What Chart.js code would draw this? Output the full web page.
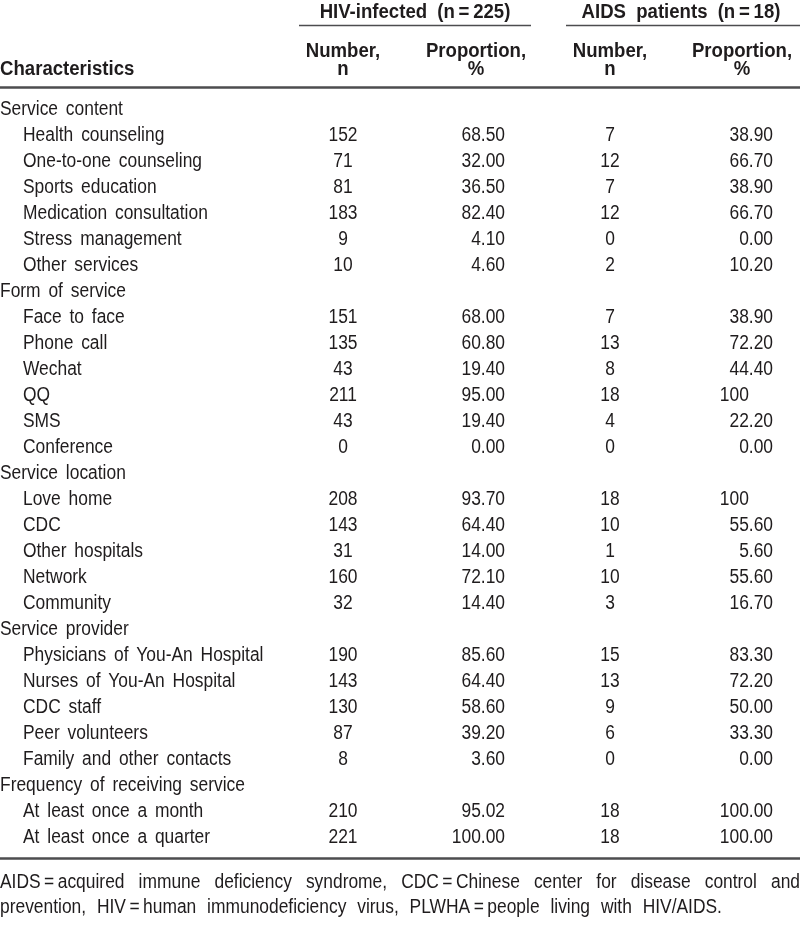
<!DOCTYPE html>
<html><head><meta charset="utf-8">
<script src="https://cdn.jsdelivr.net/npm/chart.js@4/dist/chart.umd.min.js"></script>
<style>html,body{margin:0;padding:0;background:#fff}#wrap{width:800px;height:927px}</style>
</head><body><div id="wrap"><canvas id="c" width="800" height="927"></canvas></div>
<script>
const rowLabels = ["Service content","Health counseling","One-to-one counseling","Sports education","Medication consultation","Stress management","Other services",
"Form of service","Face to face","Phone call","Wechat","QQ","SMS","Conference",
"Service location","Love home","CDC","Other hospitals","Network","Community",
"Service provider","Physicians of You-An Hospital","Nurses of You-An Hospital","CDC staff","Peer volunteers","Family and other contacts",
"Frequency of receiving service","At least once a month","At least once a quarter"];
const hivNumber = [null,152,71,81,183,9,10, null,151,135,43,211,43,0, null,208,143,31,160,32, null,190,143,130,87,8, null,210,221];
const hivProportion = [null,"68.50","32.00","36.50","82.40","4.10","4.60", null,"68.00","60.80","19.40","95.00","19.40","0.00", null,"93.70","64.40","14.00","72.10","14.40", null,"85.60","64.40","58.60","39.20","3.60", null,"95.02","100.00"];
const aidsNumber = [null,7,12,7,12,0,2, null,7,13,8,18,4,0, null,18,10,1,10,3, null,15,13,9,6,0, null,18,18];
const aidsProportion = [null,"38.90","66.70","38.90","66.70","0.00","10.20", null,"38.90","72.20","44.40","100","22.20","0.00", null,"100","55.60","5.60","55.60","16.70", null,"83.30","72.20","50.00","33.30","0.00", null,"100.00","100.00"];
const groupHeaders = ["HIV-infected (n\u2009=\u2009225)","AIDS patients (n\u2009=\u200918)"];
const columnHeaders = [["Number,","n"],["Proportion,","%"],["Number,","n"],["Proportion,","%"]];
const stubHeader = "Characteristics";
const footnote = "AIDS\u2009=\u2009acquired immune deficiency syndrome, CDC\u2009=\u2009Chinese center for disease control and prevention, HIV\u2009=\u2009human immunodeficiency virus, PLWHA\u2009=\u2009people living with HIV/AIDS.";

// layout (x-scale units == pixels)
const COL = {hivN:343, hivP:505, aidsN:610, aidsP:773};
const FONT = '"Liberation Sans",Arial,sans-serif';
const FS = 20;
const SX_REG = 0.87, SX_BOLD = 0.93;
let SX = SX_REG;
const WS = 3;
const TXT = '#1f1c1d';

function cells(vals, x){ const d=[]; vals.forEach((v,i)=>{ if(v!==null) d.push({x:x,y:i,t:String(v)}); }); return d; }

function width(ctx, s, ws){
  const w = s.split(' ');
  const sp = ctx.measureText(' ').width*SX + ws;
  return w.reduce((a,x)=>a+ctx.measureText(x).width*SX,0) + (w.length-1)*sp;
}
function draw(ctx, s, x, y, align, ws){
  if(ws===undefined) ws=WS;
  const tw = width(ctx,s,ws);
  let xx = align==='center'? x-tw/2 : align==='right'? x-tw : x;
  const sp = ctx.measureText(' ').width*SX + ws;
  s.split(' ').forEach(w=>{
    ctx.save(); ctx.translate(xx,y); ctx.scale(SX,1); ctx.textAlign='left'; ctx.fillText(w,0,0); ctx.restore();
    xx += ctx.measureText(w).width*SX + sp;
  });
}

const tablePlugin = {
  id:'table',
  afterDraw(chart){
    const ctx = chart.ctx, ys = chart.scales.y, xs = chart.scales.x;
    ctx.save();
    ctx.fillStyle = TXT;
    ctx.textBaseline = 'alphabetic';
    const cap = 7;
    SX = SX_REG;
    ctx.font = FS+'px '+FONT;
    rowLabels.forEach((lab,i)=>{
      const yy = ys.getPixelForValue(i)+cap;
      const grp = hivNumber[i]===null;
      draw(ctx, lab, xs.getPixelForValue(grp?0:23), yy, 'left');
    });
    chart.data.datasets.forEach((ds,di)=>{
      const meta = chart.getDatasetMeta(di);
      meta.data.forEach((pt,k)=>{
        const t = ds.data[k].t, px = pt.x, py = pt.y+cap;
        if(ds.align==='center'){ draw(ctx,t,px,py,'center'); }
        else {
          const decX = px - width(ctx,'.00',0);
          const p = t.indexOf('.');
          const ip = p<0?t:t.slice(0,p), fp = p<0?'':t.slice(p);
          draw(ctx,ip,decX,py,'right');
          if(fp) draw(ctx,fp,decX,py,'left');
        }
      });
    });
    // footnote justified
    const words = footnote.split(' ');
    const W = 800;
    let lines=[], cur=[];
    words.forEach(w=>{
      const test = cur.concat([w]).join(' ');
      if(width(ctx,test,3) > W && cur.length){ lines.push(cur); cur=[w]; } else cur.push(w);
    });
    if(cur.length) lines.push(cur);
    lines.forEach((ln,li)=>{
      const yy = 888 + li*25;
      if(li<lines.length-1 && ln.length>1){
        const tw = ln.reduce((a,w)=>a+width(ctx,w,0),0);
        const gap = (W-tw)/(ln.length-1);
        let xx=0; ln.forEach(w=>{ draw(ctx,w,xx,yy,'left',0); xx+=width(ctx,w,0)+gap; });
      } else { draw(ctx, ln.join(' '), 0, yy, 'left', 6); }
    });
    // header
    SX = SX_BOLD;
    ctx.font = 'bold '+FS+'px '+FONT;
    draw(ctx, groupHeaders[0], xs.getPixelForValue(415), 18, 'center', 5);
    draw(ctx, groupHeaders[1], xs.getPixelForValue(681), 18, 'center', 5);
    const hx = [343,476,610,742];
    columnHeaders.forEach((h,i)=>{
      draw(ctx, h[0], xs.getPixelForValue(hx[i]), 57, 'center');
      draw(ctx, h[1], xs.getPixelForValue(hx[i]), 75, 'center');
    });
    draw(ctx, stubHeader, 0, 75, 'left');
    // rules
    ctx.strokeStyle='#4d4d4f';
    ctx.lineWidth=1.5;
    ctx.beginPath(); ctx.moveTo(299,25.5); ctx.lineTo(531,25.5); ctx.moveTo(566,25.5); ctx.lineTo(800,25.5); ctx.stroke();
    ctx.lineWidth=2.5;
    ctx.beginPath(); ctx.moveTo(0,87.5); ctx.lineTo(800,87.5); ctx.moveTo(0,858.5); ctx.lineTo(800,858.5); ctx.stroke();
    ctx.restore();
  }
};

new Chart(document.getElementById('c'),{
  type:'scatter',
  data:{datasets:[
    {data:cells(hivNumber,COL.hivN), align:'center', pointRadius:0},
    {data:cells(hivProportion,COL.hivP), align:'decimal', pointRadius:0},
    {data:cells(aidsNumber,COL.aidsN), align:'center', pointRadius:0},
    {data:cells(aidsProportion,COL.aidsP), align:'decimal', pointRadius:0}
  ]},
  options:{
    responsive:false, devicePixelRatio:1, animation:false,
    layout:{padding:{top:95,bottom:78,left:0,right:0}},
    plugins:{legend:{display:false},tooltip:{enabled:false}},
    events:[],
    scales:{
      x:{type:'linear',min:0,max:800,display:false},
      y:{type:'category',labels:rowLabels.map((_,i)=>i),offset:true,display:false,
         min:0,max:rowLabels.length-1}
    }
  },
  plugins:[tablePlugin]
});
</script></body></html>
